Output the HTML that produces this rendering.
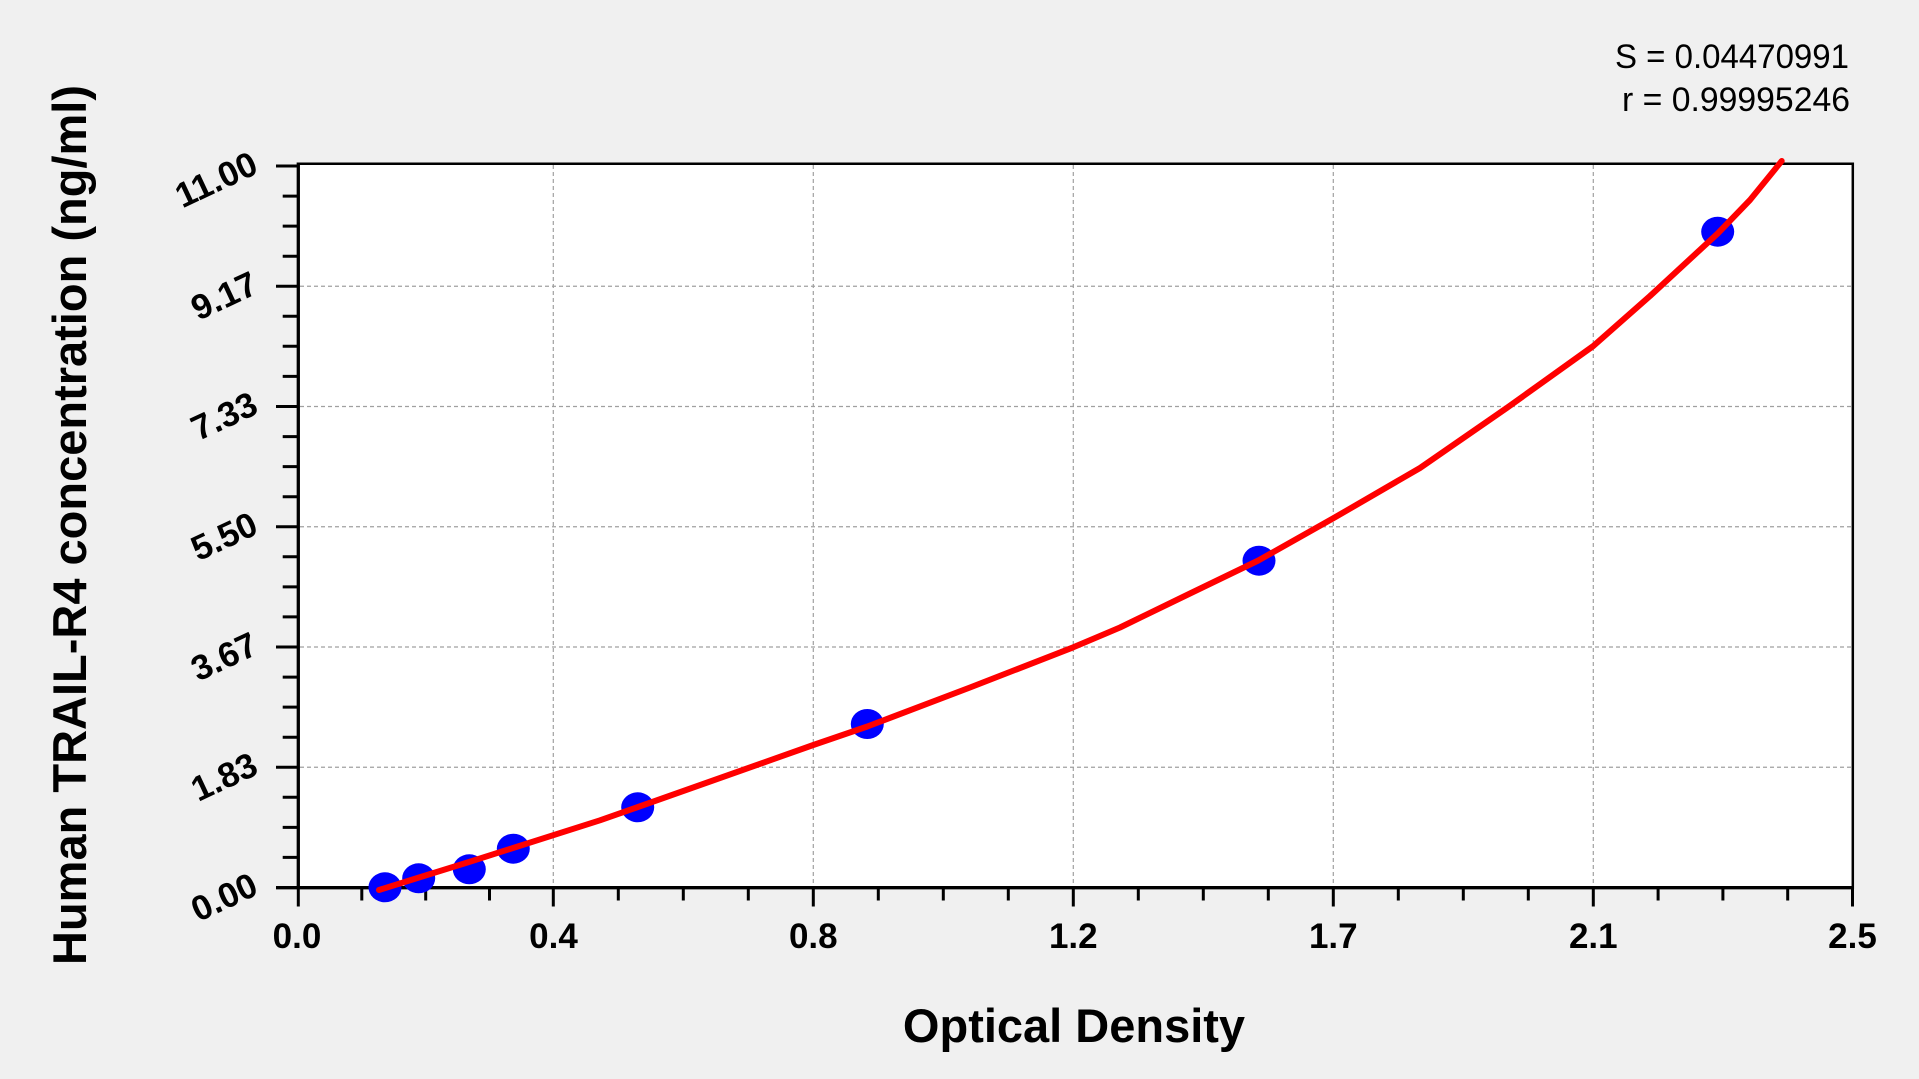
<!DOCTYPE html>
<html>
<head>
<meta charset="utf-8">
<style>
  html, body { margin:0; padding:0; background:#F0F0F0; }
  body { width:1919px; height:1079px; overflow:hidden; }
  svg { display:block; }
  text { font-family: "Liberation Sans", Arial, sans-serif; fill:#000; }
</style>
</head>
<body>
<svg width="1919" height="1079" viewBox="0 0 1919 1079" xmlns="http://www.w3.org/2000/svg">
  <rect x="0" y="0" width="1919" height="1079" fill="#F0F0F0"/>
  <!-- plot area -->
  <rect x="298.3" y="163.7" width="1554.5" height="724" fill="#FFFFFF"/>

  <!-- grid lines -->
  <g stroke="#A0A0A0" stroke-width="1.2" stroke-dasharray="4,3" fill="none">
    <line x1="553.3" y1="165" x2="553.3" y2="886"/>
    <line x1="813.3" y1="165" x2="813.3" y2="886"/>
    <line x1="1073.3" y1="165" x2="1073.3" y2="886"/>
    <line x1="1333.3" y1="165" x2="1333.3" y2="886"/>
    <line x1="1593.3" y1="165" x2="1593.3" y2="886"/>
    <line x1="300" y1="767.25" x2="1851" y2="767.25"/>
    <line x1="300" y1="647" x2="1851" y2="647"/>
    <line x1="300" y1="526.75" x2="1851" y2="526.75"/>
    <line x1="300" y1="406.5" x2="1851" y2="406.5"/>
    <line x1="300" y1="286.25" x2="1851" y2="286.25"/>
  </g>

  <!-- frame -->
  <g stroke="#000" fill="none">
    <line x1="297" y1="163.7" x2="1854" y2="163.7" stroke-width="2.5"/>
    <line x1="1852.8" y1="162.5" x2="1852.8" y2="889" stroke-width="2.5"/>
    <line x1="298.3" y1="162.5" x2="298.3" y2="889.3" stroke-width="3.3"/>
    <line x1="276" y1="887.7" x2="1854" y2="887.7" stroke-width="3.3"/>
  </g>

  <!-- x ticks -->
  <g stroke="#000" stroke-width="3">
    <line x1="298.3" y1="887" x2="298.3" y2="906.5"/>
    <line x1="553.3" y1="887" x2="553.3" y2="906.5"/>
    <line x1="813.3" y1="887" x2="813.3" y2="906.5"/>
    <line x1="1073.3" y1="887" x2="1073.3" y2="906.5"/>
    <line x1="1333.3" y1="887" x2="1333.3" y2="906.5"/>
    <line x1="1593.3" y1="887" x2="1593.3" y2="906.5"/>
    <line x1="1852.5" y1="887" x2="1852.5" y2="906.5"/>

    <line x1="361.8" y1="887" x2="361.8" y2="900.5"/>
    <line x1="425.7" y1="887" x2="425.7" y2="900.5"/>
    <line x1="489.5" y1="887" x2="489.5" y2="900.5"/>
    <line x1="618.3" y1="887" x2="618.3" y2="900.5"/>
    <line x1="683.3" y1="887" x2="683.3" y2="900.5"/>
    <line x1="748.3" y1="887" x2="748.3" y2="900.5"/>
    <line x1="878.3" y1="887" x2="878.3" y2="900.5"/>
    <line x1="943.3" y1="887" x2="943.3" y2="900.5"/>
    <line x1="1008.3" y1="887" x2="1008.3" y2="900.5"/>
    <line x1="1138.3" y1="887" x2="1138.3" y2="900.5"/>
    <line x1="1203.3" y1="887" x2="1203.3" y2="900.5"/>
    <line x1="1268.3" y1="887" x2="1268.3" y2="900.5"/>
    <line x1="1398.3" y1="887" x2="1398.3" y2="900.5"/>
    <line x1="1463.3" y1="887" x2="1463.3" y2="900.5"/>
    <line x1="1528.3" y1="887" x2="1528.3" y2="900.5"/>
    <line x1="1658.1" y1="887" x2="1658.1" y2="900.5"/>
    <line x1="1722.9" y1="887" x2="1722.9" y2="900.5"/>
    <line x1="1787.7" y1="887" x2="1787.7" y2="900.5"/>
  </g>

  <!-- y ticks -->
  <g stroke="#000" stroke-width="3">
    <line x1="276" y1="887.5" x2="299" y2="887.5"/>
    <line x1="276" y1="767.25" x2="299" y2="767.25"/>
    <line x1="276" y1="647" x2="299" y2="647"/>
    <line x1="276" y1="526.75" x2="299" y2="526.75"/>
    <line x1="276" y1="406.5" x2="299" y2="406.5"/>
    <line x1="276" y1="286.25" x2="299" y2="286.25"/>
    <line x1="276" y1="166" x2="299" y2="166"/>

    <line x1="282.7" y1="857.4" x2="299" y2="857.4"/>
    <line x1="282.7" y1="827.4" x2="299" y2="827.4"/>
    <line x1="282.7" y1="797.3" x2="299" y2="797.3"/>
    <line x1="282.7" y1="737.2" x2="299" y2="737.2"/>
    <line x1="282.7" y1="707.1" x2="299" y2="707.1"/>
    <line x1="282.7" y1="677.1" x2="299" y2="677.1"/>
    <line x1="282.7" y1="616.9" x2="299" y2="616.9"/>
    <line x1="282.7" y1="586.9" x2="299" y2="586.9"/>
    <line x1="282.7" y1="556.8" x2="299" y2="556.8"/>
    <line x1="282.7" y1="496.7" x2="299" y2="496.7"/>
    <line x1="282.7" y1="466.6" x2="299" y2="466.6"/>
    <line x1="282.7" y1="436.6" x2="299" y2="436.6"/>
    <line x1="282.7" y1="376.4" x2="299" y2="376.4"/>
    <line x1="282.7" y1="346.3" x2="299" y2="346.3"/>
    <line x1="282.7" y1="316.3" x2="299" y2="316.3"/>
    <line x1="282.7" y1="256.2" x2="299" y2="256.2"/>
    <line x1="282.7" y1="226.1" x2="299" y2="226.1"/>
    <line x1="282.7" y1="196.1" x2="299" y2="196.1"/>
  </g>

  <!-- x tick labels -->
  <g font-size="35" font-weight="bold" text-anchor="middle">
    <text x="297" y="948">0.0</text>
    <text x="553.5" y="948">0.4</text>
    <text x="813.3" y="948">0.8</text>
    <text x="1073.3" y="948">1.2</text>
    <text x="1333.3" y="948">1.7</text>
    <text x="1593.3" y="948">2.1</text>
    <text x="1852.5" y="948">2.5</text>
  </g>

  <!-- y tick labels (rotated) -->
  <g font-size="35" font-weight="bold" text-anchor="end">
    <text x="260" y="893.5" transform="rotate(-25 260 893.5)">0.00</text>
    <text x="260" y="773.25" transform="rotate(-25 260 773.25)">1.83</text>
    <text x="260" y="653" transform="rotate(-25 260 653)">3.67</text>
    <text x="260" y="532.75" transform="rotate(-25 260 532.75)">5.50</text>
    <text x="260" y="412.5" transform="rotate(-25 260 412.5)">7.33</text>
    <text x="260" y="292.25" transform="rotate(-25 260 292.25)">9.17</text>
    <text x="260" y="172.3" transform="rotate(-25 260 172.3)">11.00</text>
  </g>

  <!-- axis titles -->
  <text x="1074" y="1042" font-size="47" font-weight="bold" text-anchor="middle">Optical Density</text>
  <text x="86" y="525" font-size="47" font-weight="bold" text-anchor="middle" transform="rotate(-90 86 525)">Human TRAIL-R4 concentration (ng/ml)</text>

  <!-- stats -->
  <g font-size="34">
    <text x="1615" y="68" textLength="234" lengthAdjust="spacingAndGlyphs">S = 0.04470991</text>
    <text x="1622" y="111" textLength="228" lengthAdjust="spacingAndGlyphs">r = 0.99995246</text>
  </g>

  <!-- data points -->
  <g fill="#0000FF">
    <ellipse cx="385" cy="887.3" rx="16.5" ry="15"/>
    <ellipse cx="418.7" cy="878.3" rx="16.5" ry="15"/>
    <ellipse cx="469.3" cy="869.3" rx="16.5" ry="15"/>
    <ellipse cx="513.3" cy="848.7" rx="16.5" ry="15"/>
    <ellipse cx="637.7" cy="807.3" rx="16.5" ry="15"/>
    <ellipse cx="867.3" cy="724" rx="16.5" ry="15"/>
    <ellipse cx="1259" cy="560.7" rx="16.5" ry="15"/>
    <ellipse cx="1717.7" cy="231.7" rx="16.5" ry="15"/>
  </g>

  <!-- fitted curve -->
  <polyline fill="none" stroke="#FF0000" stroke-width="6" stroke-linejoin="round" stroke-linecap="round"
    points="379,890 419,877.5 469,862 513,848 600,820.3 638,807 813.3,745 867.3,726.5 970,687.5 1073.3,647.3 1120,627.5 1190,593.5 1258.3,560.5 1333.3,518.3 1420,468 1506.7,408 1593.3,346 1650,296 1717.7,233.5 1750,200 1781.7,161"/>
</svg>
</body>
</html>
